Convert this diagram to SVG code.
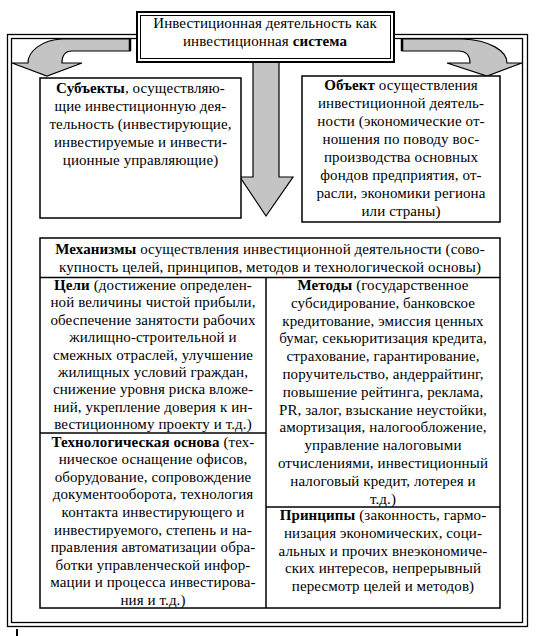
<svg xmlns="http://www.w3.org/2000/svg" width="536" height="636" viewBox="0 0 536 636">
<style>
.t{font-family:"Liberation Serif","Times New Roman",serif;font-size:15px;letter-spacing:0.1px;text-anchor:middle;fill:#000}
.b{font-weight:bold}
.box{fill:#fff;stroke:#000;stroke-width:1.5}
.ln{fill:none;stroke:#000;stroke-width:1.5}
.fr{fill:none;stroke:#000;stroke-width:1.3}
.arr{fill:#c4c4c4;stroke:#000;stroke-width:1.2;stroke-linejoin:miter}
</style>
<rect width="536" height="636" fill="#fff"/>
<g id="frame">
<rect class="fr" x="7.5" y="34.5" width="520" height="592"/>
<rect class="fr" x="11.5" y="38.5" width="511" height="584"/>
</g>
<g id="connectors">
<path class="arr" d="M130,39 L62,39 C42,40 28,51 28,63 L12,63 L47,76 L82,63 L62,63 C62,56 64,51 72,51 L130,51 Z"/>
<line x1="130" y1="39" x2="130" y2="51" stroke="#000" stroke-width="2.5"/>
<path class="arr" d="M402,39 L462,39 C490,40 507,51 507,63 L522,63 L487,76 L447,63 L470,63 C470,56 467,51 458,51 L402,51 Z"/>
<line x1="402" y1="39" x2="402" y2="51" stroke="#000" stroke-width="2.5"/>
<path class="arr" d="M253,60 L279,60 L279,177 L293,177 L266,216 L240,177 L253,177 Z"/>
</g>
<g id="title">
<rect x="137" y="12" width="257" height="50" fill="#fff" stroke="#000" stroke-width="2"/>
<rect x="140.5" y="15.5" width="250" height="43" fill="none" stroke="#000" stroke-width="1"/>
<text class="t" x="265" y="28">Инвестиционная деятельность как</text>
<text class="t" x="265" y="46">инвестиционная <tspan class="b">система</tspan></text>
</g>
<g id="subjects">
<rect class="box" x="40" y="78" width="201" height="140"/>
<text class="t" x="140.5" y="93"><tspan class="b">Субъекты</tspan>, осуществляю-</text>
<text class="t" x="140.5" y="111">щие инвестиционную дея-</text>
<text class="t" x="140.5" y="129">тельность (инвестирующие,</text>
<text class="t" x="140.5" y="147">инвестируемые и инвести-</text>
<text class="t" x="140.5" y="165">ционные управляющие)</text>
</g>
<g id="object">
<rect class="box" x="302" y="76" width="198" height="146"/>
<text class="t" x="401" y="90"><tspan class="b">Объект</tspan> осуществления</text>
<text class="t" x="401" y="108">инвестиционной деятель-</text>
<text class="t" x="401" y="126">ности (экономические от-</text>
<text class="t" x="401" y="144">ношения по поводу вос-</text>
<text class="t" x="401" y="162">производства основных</text>
<text class="t" x="401" y="180">фондов предприятия, от-</text>
<text class="t" x="401" y="198">расли, экономики региона</text>
<text class="t" x="401" y="216">или страны)</text>
</g>
<g id="mechanisms">
<rect class="box" x="40" y="238" width="460" height="370"/>
<text class="t" x="270" y="254"><tspan class="b">Механизмы</tspan> осуществления инвестиционной деятельности (сово-</text>
<text class="t" x="270" y="272">купность целей, принципов, методов и технологической основы)</text>
<line class="ln" x1="40" y1="277.5" x2="500" y2="277.5"/>
<line class="ln" x1="266" y1="277.5" x2="266" y2="608"/>
</g>
<g id="goals">
<line class="ln" x1="40" y1="433" x2="266" y2="433"/>
<text class="t" x="153" y="290"><tspan class="b">Цели</tspan> (достижение определен-</text>
<text class="t" x="153" y="307.4">ной величины чистой прибыли,</text>
<text class="t" x="153" y="324.8">обеспечение занятости рабочих</text>
<text class="t" x="153" y="342.2">жилищно-строительной и</text>
<text class="t" x="153" y="359.6">смежных отраслей, улучшение</text>
<text class="t" x="153" y="377">жилищных условий граждан,</text>
<text class="t" x="153" y="394.4">снижение уровня риска вложе-</text>
<text class="t" x="153" y="411.8">ний, укрепление доверия к ин-</text>
<text class="t" x="153" y="429.2">вестиционному проекту и т.д.)</text>
</g>
<g id="technology">
<text class="t" x="153" y="446.5"><tspan class="b">Технологическая основа</tspan> (тех-</text>
<text class="t" x="153" y="464.1">ническое оснащение офисов,</text>
<text class="t" x="153" y="481.7">оборудование, сопровождение</text>
<text class="t" x="153" y="499.3">документооборота, технология</text>
<text class="t" x="153" y="516.9">контакта инвестирующего и</text>
<text class="t" x="153" y="534.5">инвестируемого, степень и на-</text>
<text class="t" x="153" y="552.1">правления автоматизации обра-</text>
<text class="t" x="153" y="569.7">ботки управленческой инфор-</text>
<text class="t" x="153" y="587.3">мации и процесса инвестирова-</text>
<text class="t" x="153" y="604.9">ния и т.д.)</text>
</g>
<g id="methods">
<text class="t" x="383" y="290"><tspan class="b">Методы</tspan> (государственное</text>
<text class="t" x="383" y="307.8">субсидирование, банковское</text>
<text class="t" x="383" y="325.6">кредитование, эмиссия ценных</text>
<text class="t" x="383" y="343.4">бумаг, секьюритизация кредита,</text>
<text class="t" x="383" y="361.2">страхование, гарантирование,</text>
<text class="t" x="383" y="379">поручительство, андеррайтинг,</text>
<text class="t" x="383" y="396.8">повышение рейтинга, реклама,</text>
<text class="t" x="383" y="414.6">PR, залог, взыскание неустойки,</text>
<text class="t" x="383" y="432.4">амортизация, налогообложение,</text>
<text class="t" x="383" y="450.2">управление налоговыми</text>
<text class="t" x="383" y="468">отчислениями, инвестиционный</text>
<text class="t" x="383" y="485.8">налоговый кредит, лотерея и</text>
<text class="t" x="383" y="503.6">т.д.)</text>
</g>
<g id="principles">
<line class="ln" x1="266" y1="507" x2="500" y2="507"/>
<text class="t" x="383" y="520"><tspan class="b">Принципы</tspan> (законность, гармо-</text>
<text class="t" x="383" y="537.8">низация экономических, соци-</text>
<text class="t" x="383" y="555.6">альных и прочих внеэкономиче-</text>
<text class="t" x="383" y="573.4">ских интересов, непрерывный</text>
<text class="t" x="383" y="591.2">пересмотр целей и методов)</text>
</g>
<rect x="16" y="629" width="2" height="7" fill="#000"/>
</svg>
